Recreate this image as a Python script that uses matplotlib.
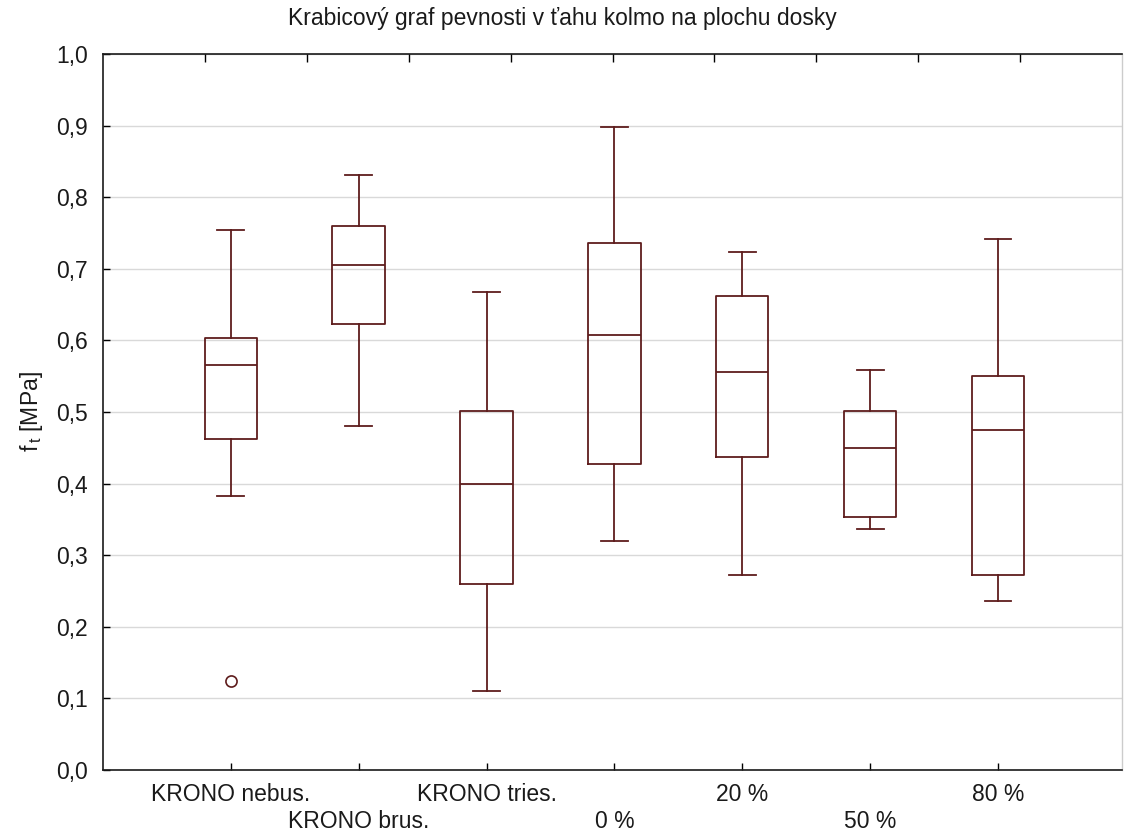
import matplotlib
matplotlib.use("Agg")
import matplotlib.pyplot as plt

plt.rcParams['font.family'] = ['Liberation Sans', 'DejaVu Sans']
plt.rcParams['mathtext.fontset'] = 'custom'
plt.rcParams['mathtext.rm'] = 'Liberation Sans'

# Box-plot summary statistics for each board type
categories = ["KRONO nebus.", "KRONO brus.", "KRONO tries.", "0 %", "20 %", "50 %", "80 %"]
whisker_low = [0.383, 0.481, 0.110, 0.320, 0.273, 0.336, 0.236]
q1          = [0.462, 0.623, 0.260, 0.427, 0.437, 0.353, 0.273]
median      = [0.565, 0.706, 0.400, 0.608, 0.556, 0.450, 0.475]
q3          = [0.603, 0.760, 0.502, 0.736, 0.662, 0.502, 0.550]
whisker_high = [0.754, 0.831, 0.668, 0.898, 0.723, 0.558, 0.742]
outliers    = [[0.125], [], [], [], [], [], []]

title = "Krabicový graf pevnosti v ťahu kolmo na plochu dosky"
y_label = r"f$_{\mathrm{\,t}}$ [MPa]"
y_ticks = [0.0, 0.1, 0.2, 0.3, 0.4, 0.5, 0.6, 0.7, 0.8, 0.9, 1.0]

line_color = "#5e1c1c"
text_color = "#1a1a1a"
W, H = 1124, 834
fig = plt.figure(figsize=(W / 100, H / 100), dpi=100)
ax = fig.add_axes([103 / W, 64 / H, (1122 - 103) / W, 716 / H])

stats = []
for i, name in enumerate(categories):
    stats.append(dict(label=name, whislo=whisker_low[i], q1=q1[i], med=median[i],
                      q3=q3[i], whishi=whisker_high[i], fliers=outliers[i]))

positions = list(range(1, len(categories) + 1))
line_kw = dict(color=line_color, linewidth=1.3)
ax.bxp(stats, positions=positions, widths=0.41, capwidths=0.21,
       boxprops=line_kw, whiskerprops=line_kw, capprops=line_kw,
       medianprops=line_kw,
       flierprops=dict(marker='o', markersize=8, markerfacecolor='none',
                       markeredgecolor=line_color, markeredgewidth=1.2),
       manage_ticks=False, zorder=3)

ax.set_xlim(0, 7.97)
ax.set_ylim(0, 1.0)
ax.set_yticks(y_ticks)
ax.set_yticklabels([f"{v:.1f}".replace(".", ",") for v in y_ticks], fontsize=16.5)
ax.set_xticks(positions)
ax.set_xticklabels(["" for _ in categories])
for i, (pos, name) in enumerate(zip(positions, categories)):
    y_off = -0.034 if i % 2 == 0 else -0.072
    ax.text(pos, y_off, name, transform=ax.get_xaxis_transform(),
            ha='center', va='center', fontsize=16.5, color=text_color)

ax.tick_params(axis='both', direction='in', length=5, width=1.0, colors='black',
               labelcolor=text_color)
ax.tick_params(axis='y', pad=11)
ax.grid(axis='y', color='#d9d9d9', linewidth=1.0, zorder=0)
ax.set_axisbelow(True)

for side in ['left', 'bottom', 'top']:
    ax.spines[side].set_color('#1a1a1a')
    ax.spines[side].set_linewidth(1.2)
ax.spines['right'].set_color('#cccccc')
ax.spines['right'].set_linewidth(1.0)

# Secondary top scale with evenly spaced inward ticks
top = ax.twiny()
top.set_xlim(0, 10)
top.set_xticks(range(1, 10))
top.set_xticklabels([])
top.tick_params(axis='x', direction='in', length=6, width=1.0)
for s in top.spines.values():
    s.set_visible(False)

ax.set_ylabel(y_label, fontsize=16.5, color=text_color, labelpad=8)
fig.text(562 / W, 1 - 18 / H, title, ha='center', va='center', fontsize=16.5,
         color=text_color)

fig.savefig("out.png", dpi=100, facecolor='white')
